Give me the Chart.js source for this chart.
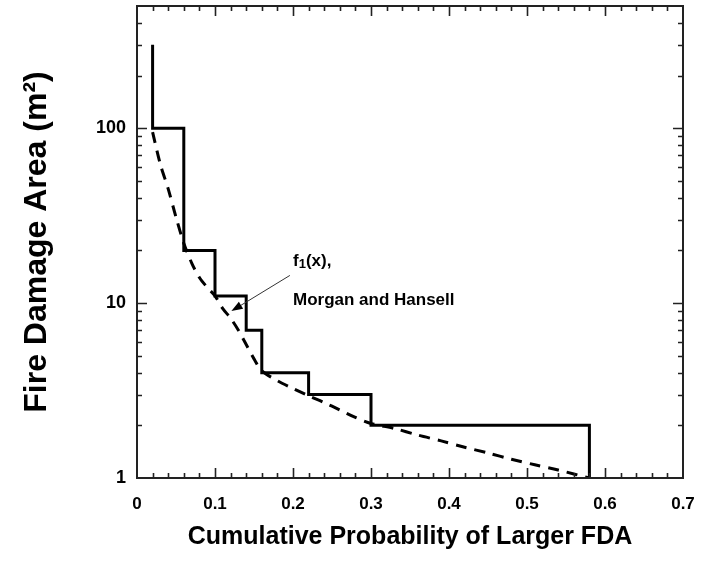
<!DOCTYPE html>
<html>
<head>
<meta charset="utf-8">
<script src="https://cdn.jsdelivr.net/npm/chart.js@4.4.0/dist/chart.umd.min.js"></script>
<style>
    html, body { margin: 0; padding: 0; background: #fff; }
    #wrap { width: 709px; height: 579px; }
</style>
</head>
<body>
<div id="wrap"><canvas id="fda-chart"></canvas></div>
<script>
// observed data: step edges and levels
const stepEdges = [0.02, 0.06, 0.10, 0.14, 0.16, 0.22, 0.30, 0.58];
const stepLevels = [100, 20, 11, 7, 4, 3, 2];
const stepTop = 300;
const stepBottom = 1;

// f1(x), Morgan and Hansell (dashed)
const fitX = [0.02, 0.03, 0.04, 0.05, 0.06, 0.07, 0.08, 0.09, 0.10, 0.11, 0.12, 0.13, 0.14, 0.15, 0.16,
              0.18, 0.20, 0.22, 0.24, 0.26, 0.28, 0.30, 0.33, 0.36, 0.39, 0.42, 0.45, 0.48, 0.51, 0.54, 0.58];
const fitY = [95, 62, 45, 31, 22, 17, 14, 12.3, 11, 9.3, 8.2, 7, 5.8, 4.8, 4.1,
              3.6, 3.25, 2.95, 2.7, 2.45, 2.22, 2.05, 1.92, 1.76, 1.63, 1.5, 1.39, 1.28, 1.19, 1.11, 1.0];

const xLabels = ['0', '0.1', '0.2', '0.3', '0.4', '0.5', '0.6', '0.7'];
const yLabels = [1, 10, 100];

// annotation anchors, in data units
const noteText1 = { x: 0.20, y: 16.3 };
const noteText2 = { x: 0.20, y: 9.7 };
const arrowFrom = { x: 0.196, y: 14.4 };
const arrowTo = { x: 0.121, y: 9.0 };

const FONT = "'Liberation Sans', Arial, Helvetica, sans-serif";

function buildSteps() {
    const pts = [{ x: stepEdges[0], y: stepTop }];
    stepLevels.forEach((lvl, i) => {
        pts.push({ x: stepEdges[i], y: lvl });
        pts.push({ x: stepEdges[i + 1], y: lvl });
    });
    pts.push({ x: stepEdges[stepEdges.length - 1], y: stepBottom });
    return pts;
}

// frame + inward ticks on all four sides, plus the annotation
const framePlugin = {
    id: 'frame',
    afterDraw(chart) {
        const ctx = chart.ctx;
        const xs = chart.scales.x;
        const ys = chart.scales.y;
        const a = chart.chartArea;
        ctx.save();
        ctx.strokeStyle = '#222';
        ctx.lineWidth = 2;
        ctx.strokeRect(a.left, a.top, a.right - a.left, a.bottom - a.top);

        ctx.lineWidth = 1.6;
        ctx.beginPath();
        for (let i = 1; i < 35; i++) {
            const px = Math.round(xs.getPixelForValue(i * 0.02)) + 0.5;
            const len = (i % 5 === 0) ? 10 : 5;
            ctx.moveTo(px, a.bottom); ctx.lineTo(px, a.bottom - len);
            ctx.moveTo(px, a.top); ctx.lineTo(px, a.top + len);
        }
        for (let d = 1; d <= 100; d *= 10) {
            for (let k = 1; k <= 9; k++) {
                const v = k * d;
                if (v <= ys.min || v >= ys.max) continue;
                const py = Math.round(ys.getPixelForValue(v)) + 0.5;
                const len = (k === 1) ? 10 : 5;
                ctx.moveTo(a.left, py); ctx.lineTo(a.left + len, py);
                ctx.moveTo(a.right, py); ctx.lineTo(a.right - len, py);
            }
        }
        ctx.stroke();

        // annotation text
        ctx.fillStyle = '#000';
        ctx.font = 'bold 17px ' + FONT;
        ctx.textBaseline = 'alphabetic';
        ctx.textAlign = 'left';
        let tx = xs.getPixelForValue(noteText1.x);
        const ty = ys.getPixelForValue(noteText1.y);
        ctx.fillText('f', tx, ty);
        tx += ctx.measureText('f').width;
        ctx.font = 'bold 13px ' + FONT;
        ctx.fillText('1', tx, ty + 2);
        tx += ctx.measureText('1').width;
        ctx.font = 'bold 17px ' + FONT;
        ctx.fillText('(x),', tx, ty);
        ctx.fillText('Morgan and Hansell', xs.getPixelForValue(noteText2.x), ys.getPixelForValue(noteText2.y));

        // arrow
        const x0 = xs.getPixelForValue(arrowFrom.x), y0 = ys.getPixelForValue(arrowFrom.y);
        const x1 = xs.getPixelForValue(arrowTo.x), y1 = ys.getPixelForValue(arrowTo.y);
        const ang = Math.atan2(y1 - y0, x1 - x0);
        ctx.strokeStyle = '#333';
        ctx.lineWidth = 1;
        ctx.beginPath();
        ctx.moveTo(x0, y0);
        ctx.lineTo(x1 - 8 * Math.cos(ang), y1 - 8 * Math.sin(ang));
        ctx.stroke();
        ctx.beginPath();
        ctx.moveTo(x1, y1);
        ctx.lineTo(x1 - 12 * Math.cos(ang - 0.35), y1 - 12 * Math.sin(ang - 0.35));
        ctx.lineTo(x1 - 12 * Math.cos(ang + 0.35), y1 - 12 * Math.sin(ang + 0.35));
        ctx.closePath();
        ctx.fill();
        ctx.restore();
    }
};

const chart = new Chart(document.getElementById('fda-chart'), {
    type: 'scatter',
    data: {
        datasets: [
            {
                label: 'Observed',
                data: buildSteps(),
                showLine: true,
                borderColor: '#000',
                borderWidth: 3,
                pointRadius: 0,
                fill: false
            },
            {
                label: 'f1(x), Morgan and Hansell',
                data: fitX.map((x, i) => ({ x: x, y: fitY[i] })),
                showLine: true,
                borderColor: '#000',
                borderWidth: 3,
                borderDash: [11, 8],
                pointRadius: 0,
                tension: 0.3,
                fill: false
            }
        ]
    },
    options: {
        responsive: true,
        maintainAspectRatio: false,
        animation: false,
        layout: { padding: { top: 6, right: 26, left: 0, bottom: 0 } },
        plugins: {
            legend: { display: false },
            tooltip: { enabled: false }
        },
        scales: {
            x: {
                type: 'linear',
                min: 0,
                max: 0.7,
                grid: { display: false, drawTicks: false },
                border: { display: false },
                afterFit: scale => {
                    scale.height = 101;
                    scale.paddingLeft = 0;
                    scale.paddingRight = 0;
                },
                ticks: {
                    stepSize: 0.1,
                    padding: 16,
                    color: '#000',
                    font: { family: FONT, size: 17, weight: 'bold' },
                    maxRotation: 0,
                    callback: v => xLabels[Math.round(v * 10)]
                },
                title: {
                    display: true,
                    text: 'Cumulative Probability of Larger FDA',
                    color: '#000',
                    font: { family: FONT, size: 25, weight: 'bold' },
                    padding: { top: 0, bottom: 27 }
                }
            },
            y: {
                type: 'logarithmic',
                min: 1,
                max: 500,
                grid: { display: false, drawTicks: false },
                border: { display: false },
                afterFit: scale => {
                    scale.width = 137;
                    scale.paddingTop = 0;
                    scale.paddingBottom = 0;
                },
                ticks: {
                    autoSkip: false,
                    padding: 11,
                    color: '#000',
                    font: { family: FONT, size: 18, weight: 'bold' },
                    callback: v => yLabels.includes(v) ? String(v) : ''
                },
                title: {
                    display: true,
                    text: 'Fire Damage Area (m²)',
                    color: '#000',
                    font: { family: FONT, size: 32, weight: 'bold' },
                    padding: { top: 18, bottom: 0 }
                }
            }
        }
    },
    plugins: [framePlugin]
});
</script>
</body>
</html>
